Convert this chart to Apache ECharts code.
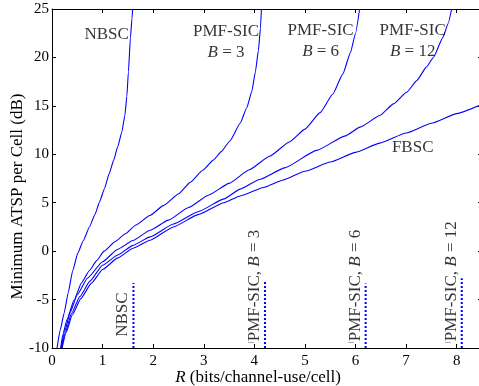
<!DOCTYPE html>
<html><head><meta charset="utf-8">
<script src="https://cdn.jsdelivr.net/npm/echarts@6/dist/echarts.min.js"></script>
<style>html,body{margin:0;padding:0;background:#fff}#c{width:479px;height:386px}</style>
</head><body><div id="c"></div>
<script>
// ---- data ----
const nbscR = [0.10,0.16,0.24,0.32,0.41,0.51,0.62,0.74,0.85,0.94,1.04,1.13,1.22,1.30,1.38,1.44,1.48,1.51,1.55,1.58,1.595];
const nbscV = [-10,-8.2,-6.4,-4.3,-2.0,-0.2,1.1,2.5,3.8,5.1,6.5,8.0,9.4,10.8,12.3,14.0,16.0,18.5,22.0,24.0,25];

const b3R = [0.17,0.22,0.30,0.44,0.58,0.74,0.88,1.03,1.25,1.45,1.66,1.94,2.20,2.50,2.73,2.98,3.19,3.35,3.52,3.72,3.85,3.95,4.02,4.08,4.12,4.14];
const b3V = [-10,-8.5,-7.0,-5.0,-3.3,-2.0,-1.0,0.0,1.0,1.8,2.7,3.7,4.7,5.9,7.1,8.35,9.4,10.3,11.4,13.2,14.8,16.5,18.5,20.7,23.0,25];

const b6R = [0.18,0.25,0.36,0.50,0.70,1.00,1.30,1.60,1.94,2.30,2.70,3.10,3.50,3.90,4.30,4.70,5.00,5.30,5.55,5.75,5.90,6.00,6.08];
const b6V = [-10,-8.3,-6.3,-4.5,-2.8,-1.1,0.2,1.1,2.16,3.2,4.5,5.8,7.0,8.4,9.8,11.3,12.6,14.3,16.2,18.3,20.5,22.5,25];

const b12R = [0.19,0.27,0.38,0.55,0.75,1.00,1.30,1.60,1.94,2.40,2.90,3.40,3.72,4.10,4.60,5.23,5.80,6.09,6.48,6.75,7.01,7.21,7.40,7.54,7.73,7.83,7.90];
const b12V = [-10,-8.3,-6.5,-4.7,-3.1,-1.45,-0.4,0.6,1.47,2.8,4.1,5.4,6.4,7.4,8.6,10.4,11.9,12.8,14.0,15.2,16.4,17.6,19.0,20.0,22.1,23.5,25];

const fbscR = [0.20,0.28,0.40,0.57,0.78,1.00,1.30,1.60,1.94,2.40,2.90,3.40,3.72,4.20,4.57,5.00,5.50,6.00,6.48,7.00,7.50,8.00,8.50];
const fbscV = [-10,-8.4,-6.6,-4.9,-3.3,-1.9,-0.7,0.3,1.13,2.5,3.8,5.0,5.7,6.6,7.35,8.25,9.2,10.2,11.15,12.2,13.2,14.2,15.15];

// rate limits (dotted markers)
const limitR   = [1.61, 4.21, 6.20, 8.10];
const limitTop = [-3.3, -3.0, -3.35, -2.8];
const limitNames = ['NBSC', '{d|ǀ}PMF-SIC, {i|B} = 3', '{d|ǀ}PMF-SIC, {i|B} = 6', '{d|ǀ}PMF-SIC, {i|B} = 12'];

const xTicks = [0,1,2,3,4,5,6,7,8];
const yTicks = [-10,-5,0,5,10,15,20,25];

// curve annotations
const curveNames = ['NBSC', 'PMF-SIC\n{i|B} = 3', 'PMF-SIC\n{i|B} = 6', 'PMF-SIC\n{i|B} = 12', 'FBSC'];
const curveLabelR = [1.08, 3.44, 5.31, 7.13, 7.13];
const curveLabelV = [22.35, 21.6, 21.65, 21.65, 10.65];

// ---- chart ----
const F = "'Liberation Serif','Times New Roman',serif";
const BLUE = '#0000ff';
const zip = (a, b) => a.map((x, i) => [x, b[i]]);
const rich = {
  i: { fontStyle: 'italic', fontFamily: F, fontSize: 17, color: '#000' },
  d: { fontFamily: F, fontSize: 9, color: '#000', verticalAlign: 'top', padding: [1, 0, 0, 0] }
};

function curve(name, R, V) {
  return { name, type: 'line', data: zip(R, V), symbol: 'none', smooth: 0.15, smoothMonotone: 'x',
    lineStyle: { color: BLUE, width: 1.1 }, silent: true, animation: false, z: 3 };
}

const series = [
  curve('NBSC', nbscR, nbscV),
  curve('PMF-SIC B=3', b3R, b3V),
  curve('PMF-SIC B=6', b6R, b6V),
  curve('PMF-SIC B=12', b12R, b12V),
  curve('FBSC', fbscR, fbscV)
];

limitR.forEach((r, i) => {
  series.push({ type: 'line', data: [[r, -10], [r, limitTop[i]]], symbol: 'none', animation: false,
    lineStyle: { color: BLUE, width: 2, type: [2, 2] }, z: 4 });
});

series.push({
  type: 'scatter', symbolSize: 0, animation: false, silent: true, z: 5,
  data: limitR.map((r, i) => ({ value: [r - 0.04, i === 0 ? -8.85 : -9.5], name: limitNames[i] })),
  label: { show: true, position: [0, 0], rotate: 90, align: 'left', verticalAlign: 'bottom',
    formatter: p => p.name, fontFamily: F, fontSize: 17, color: '#000', rich }
});

series.push({
  type: 'scatter', symbolSize: 0, animation: false, silent: true, z: 5,
  data: curveLabelR.map((r, i) => ({ value: [r, curveLabelV[i]], name: curveNames[i] })),
  label: { show: true, position: [0, 0], align: 'center', verticalAlign: 'middle', lineHeight: 21,
    formatter: p => p.name, fontFamily: F, fontSize: 17, color: '#000', rich: { i: Object.assign({}, rich.i, { lineHeight: 21 }) } }
});

const axisCommon = {
  type: 'value', splitLine: { show: false },
  axisLine: { show: true, onZero: false, lineStyle: { color: '#000', width: 1 } },
  axisTick: { show: true, inside: true, length: 4, lineStyle: { color: '#000' } }
};
const intOnly = (ticks) => v => (ticks.indexOf(v) >= 0 ? String(v) : '');

const option = {
  backgroundColor: '#fff',
  animation: false,
  grid: { left: 52, top: 9, width: 430, height: 339, containLabel: false, outerBoundsMode: 'none' },
  xAxis: [
    Object.assign({}, axisCommon, { position: 'bottom', min: 0, max: 8.5, interval: 1,
      axisLabel: { color: '#000', fontFamily: F, fontSize: 15, margin: 6, formatter: intOnly(xTicks) },
      name: '{i|R} (bits/channel-use/cell)', nameLocation: 'middle', nameGap: 21, nameMoveOverlap: false,
      nameTextStyle: { color: '#000', fontFamily: F, fontSize: 17, padding: [0, 18, 0, 0], rich } }),
    Object.assign({}, axisCommon, { position: 'top', min: 0, max: 8.5, interval: 1, axisLabel: { show: false } })
  ],
  yAxis: [
    Object.assign({}, axisCommon, { position: 'left', min: -10, max: 25, interval: 5,
      axisLabel: { color: '#000', fontFamily: F, fontSize: 15, margin: 3, formatter: intOnly(yTicks) },
      name: 'Minimum ATSP per Cell (dB)', nameLocation: 'middle', nameGap: 26, nameRotate: 90, nameMoveOverlap: false,
      nameTextStyle: { color: '#000', fontFamily: F, fontSize: 17, padding: [0, 36, 0, 0] } }),
    Object.assign({}, axisCommon, { position: 'right', min: -10, max: 25, interval: 5, axisLabel: { show: false } })
  ],
  series
};

const chart = echarts.init(document.getElementById('c'), null, { renderer: 'canvas' });
chart.setOption(option);
</script></body></html>
